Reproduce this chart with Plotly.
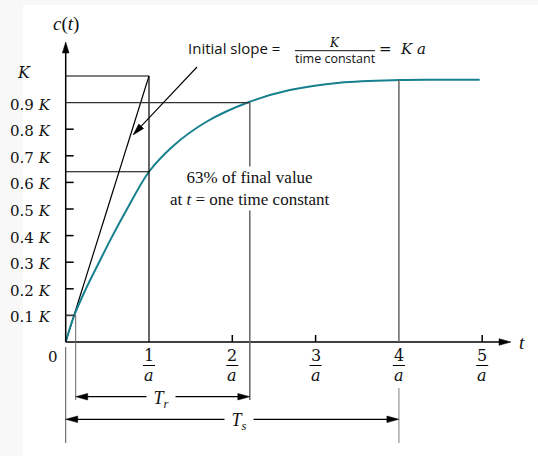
import plotly.graph_objects as go

# ---------------- data ----------------
t_curve = [0, 0.10, 0.235, 0.395, 0.535, 0.73, 1.0, 1.29, 1.69, 2.21, 2.69, 3.29, 4.0, 4.5, 4.97]
c_curve = [0, 0.098, 0.195, 0.296, 0.383, 0.496, 0.64, 0.737, 0.828, 0.903, 0.947, 0.975, 0.985, 0.986, 0.986]

y_ticks = [0.1, 0.2, 0.3, 0.4, 0.5, 0.6, 0.7, 0.8, 0.9, 1.0]
y_labels = ["0.1", "0.2", "0.3", "0.4", "0.5", "0.6", "0.7", "0.8", "0.9", ""]
x_ticks = [1, 2, 3, 4, 5]
x_nums = ["1", "2", "3", "4", "5"]

TAU = 1.0          # one time constant, 1/a
C_TAU = 0.64       # 63 % level
T10, C10 = 0.12, 0.1
T90, C90 = 2.21, 0.9
T_SET, C_SET = 4.0, 0.985
SLOPE_END = (1.0, 1.0)

# ---------------- geometry (pixel mapping) ----------------
W, H = 538, 456
X0, Y0 = 65.7, 342.0     # origin in pixels
SX, SY = 83.3, 266.0     # pixels per unit
xr = [-X0 / SX, (W - X0) / SX]
yr = [-(H - Y0) / SY, Y0 / SY]

def dx(px):
    return px / SX

def dy(px):
    return px / SY

def cy(py):  # pixel row -> c value
    return (Y0 - py) / SY

def tx(px):  # pixel column -> t value
    return (px - X0) / SX

shapes = []
annotations = []

def line(x0, y0, x1, y1, color="black", width=1.2):
    shapes.append(dict(type="line", xref="x", yref="y", x0=x0, y0=y0, x1=x1, y1=y1,
                       line=dict(color=color, width=width)))

def head(tipx, tipy, fromx, fromy, L=12, Wd=3.3, color="black"):
    vx = (tipx - fromx) * SX
    vy = (tipy - fromy) * SY
    n = (vx ** 2 + vy ** 2) ** 0.5
    ux, uy = vx / n, vy / n
    bx, by = -L * ux, -L * uy
    px_, py_ = -uy * Wd, ux * Wd
    p1 = (tipx, tipy)
    p2 = (tipx + dx(bx + px_), tipy + dy(by + py_))
    p3 = (tipx + dx(bx - px_), tipy + dy(by - py_))
    shapes.append(dict(type="path", xref="x", yref="y",
                       path=f"M {p1[0]},{p1[1]} L {p2[0]},{p2[1]} L {p3[0]},{p3[1]} Z",
                       fillcolor=color, line=dict(color=color, width=0.5)))

def arrow(x0, y0, x1, y1, color="black", width=1.2, L=12):
    vx = (x1 - x0) * SX
    vy = (y1 - y0) * SY
    n = (vx ** 2 + vy ** 2) ** 0.5
    ex = x1 - dx(vx / n * (L - 2))
    ey = y1 - dy(vy / n * (L - 2))
    line(x0, y0, ex, ey, color, width)
    head(x1, y1, x0, y0, L=L, color=color)

def P(px, py):
    return px / W, 1 - py / H

def text(s, px, py, size=16, family="DejaVu Serif", xanchor="center", yanchor="middle",
         bg=None, color="#111", pad=1):
    x, y = P(px, py)
    a = dict(text=s, x=x, y=y, xref="paper", yref="paper", showarrow=False,
             xanchor=xanchor, yanchor=yanchor, font=dict(size=size, family=family, color=color))
    if bg:
        a.update(bgcolor=bg, borderpad=pad)
    annotations.append(a)

SERIF = "DejaVu Serif, serif"
TIMES = "Liberation Serif, Times New Roman, serif"
SANS = "Open Sans, sans-serif"

# background panel
shapes.append(dict(type="rect", xref="paper", yref="paper", x0=23 / W, x1=1, y0=0, y1=1 - 5 / H,
                   fillcolor="white", line=dict(width=0), layer="below"))

# axes
arrow(0, 0, 0, cy(42), width=1.5, L=11)
arrow(0, 0, tx(511), 0, width=1.5, L=12)
line(0, cy(347), 0, cy(443), color="#555", width=1)

# ticks
for c in y_ticks[:8]:
    line(0, c, dx(8), c, width=1.5)
for t in [2, 3, 5]:
    line(t, 0, t, dy(7), width=1.5)

# construction lines
line(0, SLOPE_END[1], TAU, SLOPE_END[1])
line(TAU, 0, TAU, SLOPE_END[1])
line(0, C_TAU, TAU, C_TAU)
line(0, C90, T90, C90, color="#333")
line(T90, C90, T90, cy(400), color="#666", width=1.5)
line(T_SET, C_SET, T_SET, 0, color="#666", width=1.5)
line(T_SET, cy(388), T_SET, cy(443), color="#aaa", width=1.5)
line(0, C10, T10, C10, color="#444", width=1)
line(T10, C10, T10, cy(400), color="#666", width=1)

# rise / settling time arrows
y_tr = cy(396.7)
y_ts = cy(419.3)
mid_tr = (T10 + T90) / 2
arrow(mid_tr, y_tr, T10, y_tr, width=1.2)
arrow(mid_tr, y_tr, T90, y_tr, width=1.2)
mid_ts = T_SET / 2
arrow(mid_ts, y_ts, 0, y_ts, width=1.2)
arrow(mid_ts, y_ts, T_SET, y_ts, width=1.2)

# slope pointer arrow
arrow(tx(197), cy(67), tx(133), cy(135), width=1.1, L=12)

# fraction bars under x tick labels
for t in x_ticks:
    line(t - dx(6), cy(365.5), t + dx(6), cy(365.5), width=1)

# traces
fig = go.Figure()
fig.add_trace(go.Scatter(x=[0, SLOPE_END[0]], y=[0, SLOPE_END[1]], mode="lines",
                         line=dict(color="black", width=1.2), hoverinfo="skip"))
fig.add_trace(go.Scatter(x=t_curve, y=c_curve, mode="lines",
                         line=dict(color="#17808e", width=2, shape="spline"), hoverinfo="skip"))

# y labels
for c, lab in zip(y_ticks, y_labels):
    if lab:
        annotations.append(dict(text=f"{lab}&nbsp;<i>K</i>", x=0, y=c, xref="x", yref="y",
                                showarrow=False, xanchor="right", yanchor="middle",
                                xshift=-13, yshift=-2, font=dict(size=15, family=SERIF, color="#111")))
annotations.append(dict(text="<i>K</i>", x=0, y=1.0, xref="x", yref="y", showarrow=False,
                        xanchor="right", yanchor="middle", xshift=-33, yshift=4,
                        font=dict(size=16, family=SERIF, color="#111")))
annotations.append(dict(text="0", x=0, y=0, xref="x", yref="y", showarrow=False,
                        xanchor="center", yanchor="middle", xshift=-12.5, yshift=-15,
                        font=dict(size=15, family=SERIF, color="#111")))

# x fraction labels
for t, num in zip(x_ticks, x_nums):
    annotations.append(dict(text=num, x=t, y=0, xref="x", yref="y", showarrow=False,
                            xanchor="center", yanchor="middle", yshift=-13,
                            font=dict(size=16, family=SERIF, color="#111")))
    annotations.append(dict(text="<i>a</i>", x=t, y=0, xref="x", yref="y", showarrow=False,
                            xanchor="center", yanchor="middle", yshift=-33,
                            font=dict(size=16, family=SERIF, color="#111")))

# axis names
text("<i>c</i>(<i>t</i>)", 66, 24, size=19, family=TIMES)
text("<i>t</i>", 522, 342, size=19, family=TIMES)

# slope annotation
text("Initial slope =", 186, 48, size=15, family=SANS, xanchor="left")
text("<i>K</i>", 334, 43, size=12, family=SERIF)
shapes.append(dict(type="line", xref="paper", yref="paper", x0=295 / W, x1=375 / W,
                   y0=1 - 50.7 / H, y1=1 - 50.7 / H, line=dict(color="#111", width=1)))
text("time constant", 335, 58, size=12.5, family=SANS)
text("=&nbsp;&nbsp;<i>K</i>&nbsp;<i>a</i>", 377, 49, size=15, family=SERIF, xanchor="left")

# 63 % note
text("63% of final value<br>at <i>t</i> = one time constant", 250, 188.5, size=17,
     family=TIMES, bg="white")

# T_r / T_s labels
text("&nbsp;<i>T</i><sub><i>r</i></sub>&nbsp;", 161, 399, size=18, family=TIMES, bg="white", pad=2)
text("&nbsp;<i>T</i><sub><i>s</i></sub>&nbsp;", 239, 421, size=18, family=TIMES, bg="white", pad=2)

fig.update_layout(
    width=W, height=H, margin=dict(l=0, r=0, t=0, b=0, pad=0),
    xaxis=dict(range=xr, visible=False, fixedrange=True),
    yaxis=dict(range=yr, visible=False, fixedrange=True),
    plot_bgcolor="#f8f8f8", paper_bgcolor="#f8f8f8",
    showlegend=False, shapes=shapes, annotations=annotations,
)

fig.write_html("out.html", config={"displayModeBar": False},
               post_script="document.body.style.margin='0';")
